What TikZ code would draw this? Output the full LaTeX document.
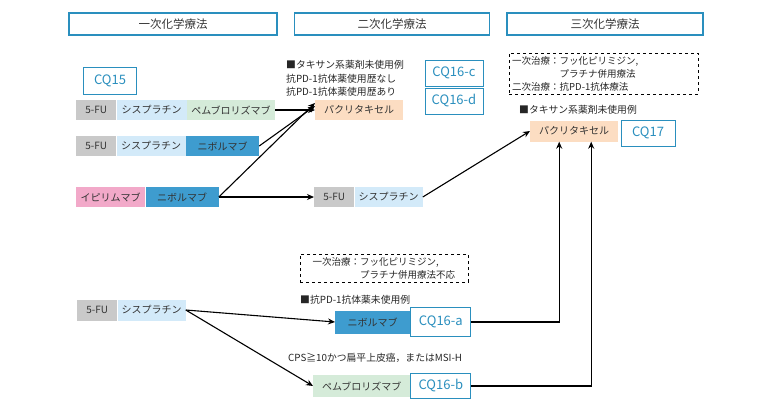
\documentclass[tikz,border=0pt]{standalone}
\usepackage{fontspec}
\setmainfont{Noto Sans CJK JP}
\usetikzlibrary{positioning,arrows.meta}
\definecolor{cqblue}{HTML}{2A8FBE}
\definecolor{fugray}{HTML}{C9C9C9}
\definecolor{cisblue}{HTML}{D3EAF9}
\definecolor{pemgreen}{HTML}{D5EBD9}
\definecolor{nivoblue}{HTML}{3E9CCF}
\definecolor{ipipink}{HTML}{F2A9C9}
\definecolor{pacorange}{HTML}{FCDDC2}
\tikzset{
  seg/.style={inner sep=0pt, minimum height=20pt, font=\fontsize{10}{11}\selectfont, text=black!80},
  head/.style={draw=cqblue, line width=1.6pt, inner sep=0pt, minimum height=22pt, font=\fontsize{11.5}{13}\selectfont, text=black!80},
  cq/.style={draw=cqblue, line width=0.9pt, fill=white, inner sep=0pt, minimum width=56pt, font=\fontsize{13}{14}\selectfont, text=cqblue},
  note/.style={inner sep=0pt, align=left, font=\fontsize{9.8}{13.5}\selectfont, text=black!85},
  dashbox/.style={draw, dashed, inner sep=3pt, align=left, font=\fontsize{9.5}{13}\selectfont, text=black!85},
  arr/.style={-{Stealth[length=7pt,width=6pt]}, line width=1.1pt},
  ln/.style={line width=1.1pt}
}
\begin{document}
\begin{tikzpicture}[x=1pt,y=-1pt]
\useasboundingbox (0,0) rectangle (765,400);
% headers
\node[head, minimum width=208pt] (h1) at (173,24) {一次化学療法};
\node[head, minimum width=195pt] (h2) at (392,24) {二次化学療法};
\node[head, minimum width=196pt] (h3) at (605,24) {三次化学療法};

% first line regimens
\node[cq, minimum width=53pt, minimum height=27pt] (cq15) at (110,81) {CQ15};
\node[seg, fill=fugray, minimum width=40pt, anchor=west] (fu1) at (76,110) {5-FU};
\node[seg, fill=cisblue, minimum width=70pt, right=0pt of fu1] (cis1) {シスプラチン};
\node[seg, fill=pemgreen, minimum width=88pt, right=0pt of cis1] (pem1) {ペムブロリズマブ};
\node[seg, fill=fugray, minimum width=40pt, anchor=west] (fu2) at (76,146) {5-FU};
\node[seg, fill=cisblue, minimum width=69pt, right=0pt of fu2] (cis2) {シスプラチン};
\node[seg, fill=nivoblue, minimum width=73pt, right=0pt of cis2] (nivo2) {ニボルマブ};
\node[seg, fill=ipipink, minimum width=69pt, anchor=west] (ipi3) at (76,197) {イピリムマブ};
\node[seg, fill=nivoblue, minimum width=73pt, right=0pt of ipi3] (nivo3) {ニボルマブ};

% second line
\node[seg, fill=pacorange, minimum width=88pt, anchor=west] (pac2) at (315,110) {パクリタキセル};
\node[note, anchor=south west] (txt2) at (286,97) {■タキサン系薬剤未使用例\\抗PD-1抗体薬使用歴なし\\抗PD-1抗体薬使用歴あり};
\node[cq, minimum width=58pt, minimum height=26pt] (cq16c) at (454,73) {CQ16-c};
\node[cq, minimum width=58pt, minimum height=26pt] (cq16d) at (454,101) {CQ16-d};
\node[seg, fill=fugray, minimum width=40pt, anchor=west] (fu4) at (314,197) {5-FU};
\node[seg, fill=cisblue, minimum width=68pt, right=0pt of fu4] (cis4) {シスプラチン};

% third line
\node[dashbox, anchor=north west, text width=183pt] (dash3) at (509,53) {一次治療：フッ化ピリミジン,\\\hspace*{5em}プラチナ併用療法\\二次治療：抗PD-1抗体療法};
\node[note, anchor=west] (txt3) at (519,110) {■タキサン系薬剤未使用例};
\node[seg, fill=pacorange, minimum width=88pt, minimum height=21pt, anchor=west] (pac3) at (530,131) {パクリタキセル};
\node[cq, minimum width=54pt, minimum height=26pt] (cq17) at (648,133) {CQ17};

% lower pathway
\node[dashbox, anchor=north west, text width=162pt] (dash4) at (300,254) {\hspace*{1em}一次治療：フッ化ピリミジン,\\\hspace*{6em}プラチナ併用療法不応};
\node[note, anchor=west] (txt4) at (300,300) {■抗PD-1抗体薬未使用例};
\node[seg, fill=fugray, minimum width=40pt, minimum height=21pt, anchor=west] (fu5) at (77,310) {5-FU};
\node[seg, fill=cisblue, minimum width=68pt, minimum height=21pt, right=0pt of fu5] (cis5) {シスプラチン};
\node[seg, fill=nivoblue, minimum width=75pt, minimum height=23pt, anchor=west] (nivo5) at (335,322) {ニボルマブ};
\node[cq, minimum width=60pt, minimum height=29pt, right=0pt of nivo5] (cq16a) {CQ16-a};
\node[note, anchor=west] (txt5) at (288,358) {CPS≧10かつ扁平上皮癌，またはMSI-H};
\node[seg, fill=pemgreen, minimum width=97pt, minimum height=22pt, anchor=west] (pem5) at (313,386) {ペムブロリズマブ};
\node[cq, minimum width=60pt, minimum height=25pt, right=0pt of pem5] (cq16b) {CQ16-b};

% connectors
\draw[arr] (pem1.east) -- (pac2.west);
\draw[arr] (nivo2.east) -- ([yshift=4pt]pac2.west);
\draw[arr] (nivo3.east) -- ([yshift=7pt]pac2.west);
\draw[arr] (nivo3.east) -- (fu4.west);
\draw[arr] (cis4.east) -- (pac3.west);
\draw[arr] (cis5.east) -- (nivo5.west);
\draw[arr] (cis5.east) -- (pem5.west);
\draw[arr] (cq16a.east) -| ([xshift=-15pt]pac3.south);
\draw[arr] (cq16b.east) -| ([xshift=17pt]pac3.south);
\end{tikzpicture}
\end{document}
